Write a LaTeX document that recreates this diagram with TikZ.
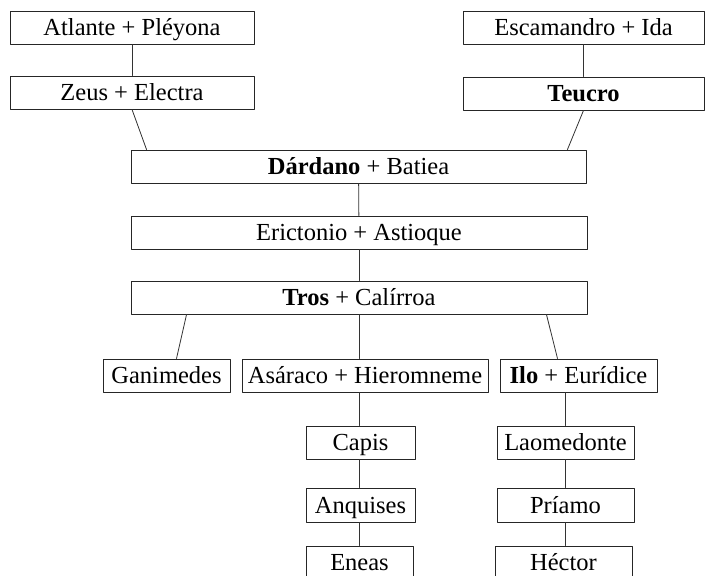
\documentclass[tikz,border=0pt]{standalone}
\usepackage{fontspec}
\setmainfont{Liberation Serif}
\tikzset{
	caja/.style={draw=black!85, line width=0.9pt, inner sep=0pt, text height=16.5pt, text depth=0pt, minimum height=33pt},
	rama/.style={draw=black!80, line width=0.8pt}
}
\begin{document}
\begin{tikzpicture}[x=1pt,y=-1pt, line join=round, line cap=round, font=\fontsize{24.5}{29}\selectfont]
	\def\xmax{705} \def\ymax{576} % Marco
	\clip (0,0) rectangle (\xmax,\ymax);
	%\draw[color=gray!50,dashed] (0,0) grid[step=50] (\xmax,\ymax);
	\node[caja,minimum width=244pt] (atlante) at (132,27.5) {Atlante + Pléyona};
	\node[caja,minimum width=241pt] (escamandro) at (583.5,27.5) {Escamandro + Ida};
	\node[caja,minimum width=244pt] (zeus) at (132,92.5) {Zeus + Electra};
	\node[caja,minimum width=241pt] (teucro) at (583.5,93.5) {\textbf{Teucro}};
	\node[caja,minimum width=455pt] (dardano) at (358.5,166.5) {\textbf{Dárdano} + Batiea};
	\node[caja,minimum width=456pt] (erictonio) at (359,232.5) {Erictonio + Astioque};
	\node[caja,minimum width=456pt] (tros) at (359,297.5) {\textbf{Tros} + Calírroa};
	\node[caja,minimum width=127pt] (ganimedes) at (166.5,375.5) {Ganimedes};
	\node[caja,minimum width=246pt] (asaraco) at (365,375.5) {Asáraco + Hieromneme};
	\node[caja,minimum width=157pt] (ilo) at (578.5,375.5) {\textbf{Ilo} + Eurídice};
	\node[caja,minimum width=109pt] (capis) at (360.5,442.5) {Capis};
	\node[caja,minimum width=109pt,minimum height=34pt] (anquises) at (360.5,505) {Anquises};
	\node[caja,minimum width=107pt] (eneas) at (359.5,562.5) {Eneas};
	\node[caja,minimum width=137pt] (laomedonte) at (565.5,442.5) {Laomedonte};
	\node[caja,minimum width=137pt,minimum height=34pt] (priamo) at (565.5,505) {Príamo};
	\node[caja,minimum width=137pt] (hector) at (563.5,562.5) {Héctor};
	\draw[rama] (atlante) -- (zeus);
	\draw[rama] (escamandro) -- (teucro);
	\draw[rama] (zeus.south) -- ([xshift=16pt]dardano.north west);
	\draw[rama] (teucro.south) -- ([xshift=-19pt]dardano.north east);
	\draw[rama] (dardano) -- (erictonio);
	\draw[rama] (erictonio) -- (tros);
	\draw[rama] ([xshift=56pt]tros.south west) -- ([xshift=10pt]ganimedes.north);
	\draw[rama] (tros.south) -- (tros.south |- asaraco.north);
	\draw[rama] ([xshift=-41pt]tros.south east) -- ([xshift=-21pt]ilo.north);
	\draw[rama] (tros.south |- asaraco.south) -- (tros.south |- capis.north);
	\draw[rama] (tros.south |- capis.south) -- (tros.south |- anquises.north);
	\draw[rama] (tros.south |- anquises.south) -- (tros.south |- eneas.north);
	\draw[rama] (laomedonte.north |- ilo.south) -- (laomedonte.north);
	\draw[rama] (laomedonte) -- (priamo);
	\draw[rama] (priamo.south) -- (priamo.south |- hector.north);
\end{tikzpicture}
\end{document}
